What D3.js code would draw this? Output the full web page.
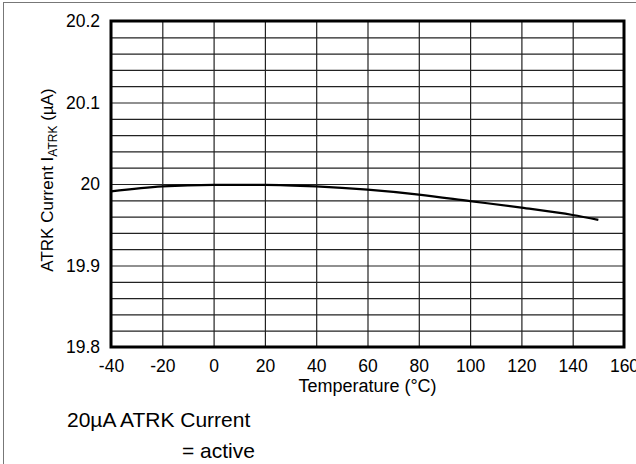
<!DOCTYPE html>
<html>
<head>
<meta charset="utf-8">
<script src="https://cdn.jsdelivr.net/npm/d3@7"></script>
<style>
  body { margin: 0; background: #fff; }
  text { font-family: "Liberation Sans", Arial, sans-serif; fill: #000; }
</style>
</head>
<body>
<div id="chart"></div>
<script>
// data
const temps = [-40, -20, 0, 20, 40, 60, 80, 100, 120, 140, 150];
const current = [19.991, 19.997, 19.999, 19.999, 19.997, 19.993, 19.987, 19.979, 19.971, 19.962, 19.956];
const xTicks = [-40, -20, 0, 20, 40, 60, 80, 100, 120, 140, 160];
const yTicks = [19.8, 19.9, 20, 20.1, 20.2];
const yTickLabels = ["19.8", "19.9", "20", "20.1", "20.2"];

function renderChart() {
    const W = 636, H = 464;
    const margin = {top: 21, right: 12, bottom: 117, left: 111},
    width = W - margin.left - margin.right,
    height = H - margin.top - margin.bottom;

    const root = d3.select("#chart")
    .append("svg")
    .attr("width", W)
    .attr("height", H);

    // outer frame of the figure
    root.append("rect")
    .attr("x", 3.5).attr("y", 2.5)
    .attr("width", 660).attr("height", 480)
    .attr("fill", "none")
    .attr("stroke", "#777")
    .attr("stroke-width", 1);

    const svg = root.append("g")
    .attr("transform", `translate(${margin.left},${margin.top})`);

    const x = d3.scaleLinear().domain([-40, 160]).range([0, width]);
    const y = d3.scaleLinear().domain([19.8, 20.2]).range([height, 0]);

    // grid: vertical every 20, horizontal every 0.02
    const yGrid = d3.range(1, 20).map(i => 19.8 + i * 0.02);
    svg.append("g")
    .call(d3.axisBottom(x).tickValues(xTicks.slice(1, -1)).tickSize(-height).tickFormat(""))
    .attr("transform", `translate(0,${height})`)
    .call(g => g.select(".domain").remove())
    .selectAll("line").attr("stroke", "#222").attr("stroke-width", 1.2);

    svg.append("g")
    .call(d3.axisLeft(y).tickValues(yGrid).tickSize(-width).tickFormat(""))
    .call(g => g.select(".domain").remove())
    .selectAll("line").attr("stroke", "#222").attr("stroke-width", 1.2);

    // tick labels (the last one runs off the right edge, as in the original)
    svg.append("g")
    .attr("transform", `translate(0,${height})`)
    .call(d3.axisBottom(x).tickValues(xTicks).tickSize(0).tickPadding(13).tickFormat(d => d))
    .call(g => g.select(".domain").remove())
    .selectAll("text")
        .style("font-size", "17.5px")
        .style("font-family", "Liberation Sans, Arial, sans-serif");

    svg.append("g")
    .call(d3.axisLeft(y).tickValues(yTicks).tickSize(0).tickPadding(11)
        .tickFormat((d, i) => yTickLabels[i]))
    .call(g => g.select(".domain").remove())
    .selectAll("text")
        .style("font-size", "17.5px")
        .style("font-family", "Liberation Sans, Arial, sans-serif");

    // plot frame
    svg.append("rect")
    .attr("x", 0).attr("y", 0)
    .attr("width", width).attr("height", height)
    .attr("fill", "none")
    .attr("stroke", "#000")
    .attr("stroke-width", 3);

    // the curve
    const line = d3.line()
    .x(d => x(d[0]))
    .y(d => y(d[1]))
    .curve(d3.curveMonotoneX);

    svg.append("path")
    .datum(temps.map((t, i) => [t, current[i]]))
    .attr("d", line)
    .attr("fill", "none")
    .attr("stroke", "#000")
    .attr("stroke-width", 2.2);

    // axis titles
    svg.append("text")
    .attr("x", width / 2)
    .attr("y", height + 45)
    .attr("text-anchor", "middle")
    .style("font-size", "18px")
    .text("Temperature (°C)");

    const yt = root.append("text")
    .attr("transform", "translate(53,180) rotate(-90)")
    .attr("text-anchor", "middle")
    .style("font-size", "17px");
    yt.append("tspan").text("ATRK Current I");
    yt.append("tspan").attr("dy", 4).style("font-size", "12px").text("ATRK");
    yt.append("tspan").attr("dy", -4).text(" (\u00b5A)");

    // notes under the chart
    root.append("text")
    .attr("x", 67).attr("y", 427)
    .style("font-size", "21px")
    .text("20\u00b5A ATRK Current");

    root.append("text")
    .attr("x", 182).attr("y", 458)
    .style("font-size", "21px")
    .text("= active");
}

renderChart();
</script>
</body>
</html>
